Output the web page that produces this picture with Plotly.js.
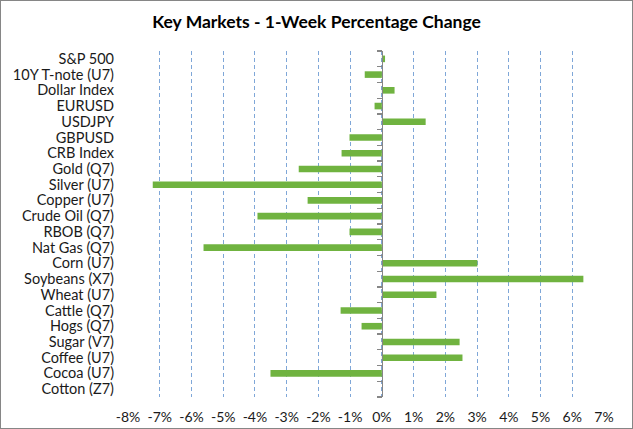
<!DOCTYPE html>
<html>
<head>
<meta charset="utf-8">
<script src="https://cdn.plot.ly/plotly-3.0.1.min.js"></script>
<style>
html,body{margin:0;padding:0;background:#fff;}
#chart{width:631px;height:427px;border:1px solid #868686;}
</style>
</head>
<body>
<div id="chart"></div>
<script>
const categories = ["S&P 500","10Y T-note (U7)","Dollar Index","EURUSD","USDJPY","GBPUSD","CRB Index","Gold (Q7)","Silver (U7)","Copper (U7)","Crude Oil (Q7)","RBOB (Q7)","Nat Gas (Q7)","Corn (U7)","Soybeans (X7)","Wheat (U7)","Cattle (Q7)","Hogs (Q7)","Sugar (V7)","Coffee (U7)","Cocoa (U7)","Cotton (Z7)"];
const changes = [0.001,-0.0054,0.0040,-0.0023,0.0138,-0.0102,-0.0127,-0.0262,-0.0722,-0.0234,-0.0392,-0.0102,-0.0562,0.0301,0.0635,0.0172,-0.0130,-0.0064,0.0245,0.0254,-0.0351,0.0];
const tickVals = [-0.08,-0.07,-0.06,-0.05,-0.04,-0.03,-0.02,-0.01,0,0.01,0.02,0.03,0.04,0.05,0.06,0.07];
const tickText = ["-8%","-7%","-6%","-5%","-4%","-3%","-2%","-1%","0%","1%","2%","3%","4%","5%","6%","7%"];

const font = "Lato, 'Open Sans', 'Liberation Sans', sans-serif";
const xmin = -0.08, xmax = 0.07;
const n = categories.length;

const traces = [
  {type:'bar', orientation:'h', y:categories, x:changes, marker:{color:'#70B340'}, hoverinfo:'skip', yaxis:'y', xaxis:'x'},
  {type:'bar', orientation:'h', y:categories, x:categories.map(()=>null), marker:{color:'rgba(0,0,0,0)'}, hoverinfo:'skip', yaxis:'y2', xaxis:'x', showlegend:false}
];

const layout = {
  width:631, height:427,
  margin:{l:127, r:28, t:50, b:31},
  paper_bgcolor:'#fff', plot_bgcolor:'#fff',
  showlegend:false,
  bargap:0.58,
  title:{text:'<b>Key Markets - 1-Week Percentage Change</b>', x:0.5, xanchor:'center', y:0.95, yanchor:'middle', font:{family:font, size:17.5, color:'#000'}},
  xaxis:{
    range:[xmin,xmax], tickmode:'array', tickvals:tickVals, ticktext:tickText,
    showgrid:true, gridcolor:'#7FA7D8', griddash:'4px,3px', gridwidth:1,
    zeroline:false, showline:false, ticks:'',
    ticklabelstandoff:10,
    tickfont:{family:font, size:14, color:'#1a1a1a'}, fixedrange:true
  },
  yaxis:{
    type:'category', range:[n-0.5,-0.5], tickmode:'array', tickvals:categories, ticktext:categories,
    showgrid:false, zeroline:false, showline:false, ticks:'',
    ticklabelstandoff:13,
    tickfont:{family:font, size:14.5, color:'#1a1a1a'}, fixedrange:true
  },
  yaxis2:{
    type:'category', overlaying:'y', anchor:'free', position:(0-xmin)/(xmax-xmin),
    range:[n-0.5,-0.5], tickmode:'array', tickvals:categories, showticklabels:false, showgrid:false, zeroline:false,
    showline:true, linecolor:'#868686', linewidth:1.2,
    ticks:'outside', tickson:'boundaries', ticklen:5, tickcolor:'#868686', tickwidth:1.2,
    fixedrange:true
  }
};

Plotly.newPlot('chart', traces, layout, {displayModeBar:false, staticPlot:true});
</script>
</body>
</html>
